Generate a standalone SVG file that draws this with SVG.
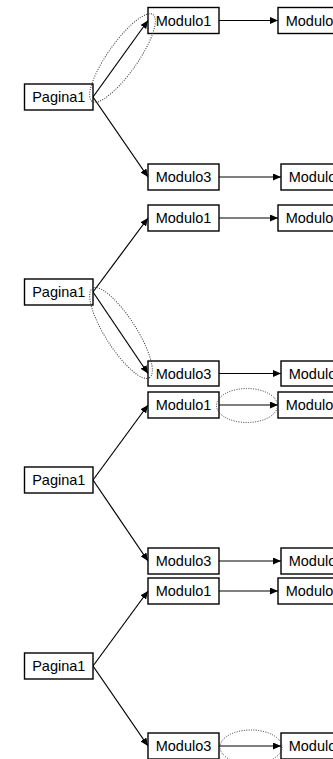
<svg xmlns="http://www.w3.org/2000/svg" width="333" height="759" viewBox="0 0 333 759">
  <style>
    .box rect { fill: #ffffff; stroke: #000000; stroke-width: 1.4; }
    .box text { font-family: "Liberation Sans", Arial, sans-serif; font-size: 14.5px; fill: #000000; text-anchor: middle; }
    .edge { fill: none; stroke: #000000; stroke-width: 1.2; marker-end: url(#arrow); }
    .mark { fill: none; stroke: #333333; stroke-width: 1; stroke-dasharray: 1 1.4; }
  </style>
  <defs>
    <marker id="arrow" markerUnits="userSpaceOnUse" markerWidth="8" markerHeight="7" refX="8" refY="3.5" orient="auto">
      <path d="M0,0 L8,3.5 L0,7 Z" fill="#000000"/>
    </marker>
  </defs>

  <!-- connectors -->
  <g id="connectors">
    <!-- panel 1 -->
    <line class="edge" x1="93" y1="97" x2="148" y2="20.5"/>
    <line class="edge" x1="93" y1="97" x2="148" y2="177"/>
    <line class="edge" x1="219" y1="20.5" x2="278" y2="20.5"/>
    <line class="edge" x1="219" y1="177" x2="281" y2="177"/>
    <!-- panel 2 -->
    <line class="edge" x1="93" y1="292" x2="148" y2="218"/>
    <line class="edge" x1="93" y1="292" x2="148" y2="373.5"/>
    <line class="edge" x1="219" y1="218" x2="278" y2="218"/>
    <line class="edge" x1="219" y1="373.5" x2="281" y2="373.5"/>
    <!-- panel 3 -->
    <line class="edge" x1="93" y1="480" x2="148" y2="405"/>
    <line class="edge" x1="93" y1="480" x2="148" y2="561"/>
    <line class="edge" x1="219" y1="405" x2="278" y2="405"/>
    <line class="edge" x1="219" y1="561" x2="281" y2="561"/>
    <!-- panel 4 -->
    <line class="edge" x1="93" y1="666" x2="148" y2="591"/>
    <line class="edge" x1="93" y1="666" x2="148" y2="746"/>
    <line class="edge" x1="219" y1="591" x2="278" y2="591"/>
    <line class="edge" x1="219" y1="746" x2="281" y2="746"/>
  </g>

  <!-- panel 1 -->
  <g id="p1-pagina1" class="box"><rect x="24.5" y="84" width="68.5" height="26"/><text x="58.75" y="102">Pagina1</text></g>
  <g id="p1-modulo1" class="box"><rect x="148" y="7.5" width="71" height="26"/><text x="183.5" y="25.5">Modulo1</text></g>
  <g id="p1-modulo2" class="box"><rect x="278" y="7.5" width="71" height="26"/><text x="313.5" y="25.5">Modulo2</text></g>
  <g id="p1-modulo3" class="box"><rect x="148" y="164" width="71" height="26"/><text x="183.5" y="182">Modulo3</text></g>
  <g id="p1-modulo4" class="box"><rect x="281" y="164" width="71" height="26"/><text x="316.5" y="182">Modulo4</text></g>

  <!-- panel 2 -->
  <g id="p2-pagina1" class="box"><rect x="24.5" y="279" width="68.5" height="26"/><text x="58.75" y="297">Pagina1</text></g>
  <g id="p2-modulo1" class="box"><rect x="148" y="205" width="71" height="26"/><text x="183.5" y="223">Modulo1</text></g>
  <g id="p2-modulo2" class="box"><rect x="278" y="205" width="71" height="26"/><text x="313.5" y="223">Modulo2</text></g>
  <g id="p2-modulo3" class="box"><rect x="148" y="361" width="71" height="25"/><text x="183.5" y="378.5">Modulo3</text></g>
  <g id="p2-modulo4" class="box"><rect x="281" y="361" width="71" height="25"/><text x="316.5" y="378.5">Modulo4</text></g>

  <!-- panel 3 -->
  <g id="p3-pagina1" class="box"><rect x="24.5" y="467" width="68.5" height="26"/><text x="58.75" y="485">Pagina1</text></g>
  <g id="p3-modulo1" class="box"><rect x="148" y="392" width="71" height="26"/><text x="183.5" y="410">Modulo1</text></g>
  <g id="p3-modulo2" class="box"><rect x="278" y="392" width="71" height="26"/><text x="313.5" y="410">Modulo2</text></g>
  <g id="p3-modulo3" class="box"><rect x="148" y="548" width="71" height="26"/><text x="183.5" y="566">Modulo3</text></g>
  <g id="p3-modulo4" class="box"><rect x="281" y="548" width="71" height="26"/><text x="316.5" y="566">Modulo4</text></g>

  <!-- panel 4 -->
  <g id="p4-pagina1" class="box"><rect x="24.5" y="653" width="68.5" height="26"/><text x="58.75" y="671">Pagina1</text></g>
  <g id="p4-modulo1" class="box"><rect x="148" y="578" width="71" height="26"/><text x="183.5" y="596">Modulo1</text></g>
  <g id="p4-modulo2" class="box"><rect x="278" y="578" width="71" height="26"/><text x="313.5" y="596">Modulo2</text></g>
  <g id="p4-modulo3" class="box"><rect x="148" y="733" width="71" height="26"/><text x="183.5" y="751">Modulo3</text></g>
  <g id="p4-modulo4" class="box"><rect x="281" y="733" width="71" height="26"/><text x="316.5" y="751">Modulo4</text></g>

  <!-- dotted highlight rings -->
  <g id="highlights">
    <ellipse class="mark" cx="122.5" cy="58" rx="53" ry="15" transform="rotate(-54.9 122.5 58)"/>
    <ellipse class="mark" cx="121" cy="333" rx="53" ry="15.5" transform="rotate(57.5 121 333)"/>
    <ellipse class="mark" cx="247" cy="405.5" rx="30.5" ry="17"/>
    <ellipse class="mark" cx="251" cy="747" rx="31" ry="17"/>
  </g>
</svg>
